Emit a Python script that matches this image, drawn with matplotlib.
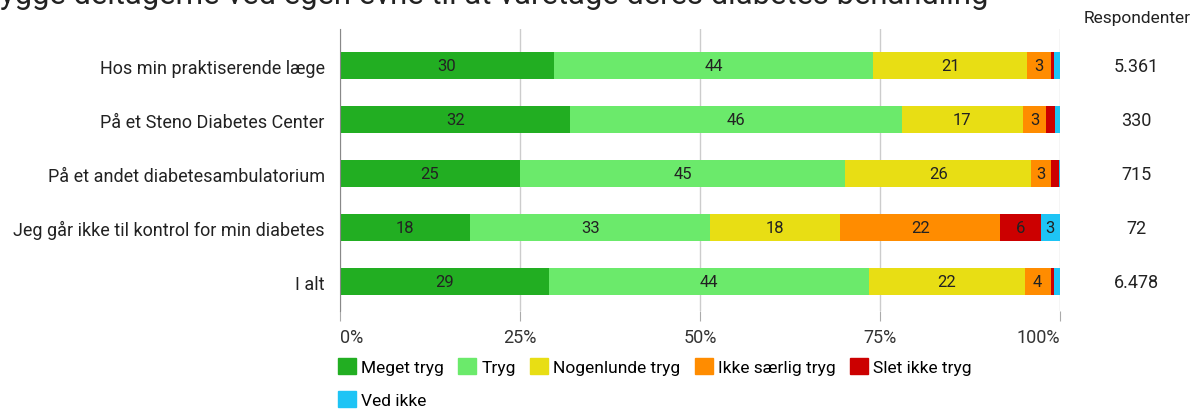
import numpy as np
import matplotlib.pyplot as plt
from matplotlib.patches import Patch

plt.rcParams['font.family'] = ['Roboto', 'DejaVu Sans']

groups = ['Hos min praktiserende læge', 'På et Steno Diabetes Center',
          'På et andet diabetesambulatorium', 'Jeg går ikke til kontrol for min diabetes',
          'I alt']
respondents = ['5.361', '330', '715', '72', '6.478']

categories = ['Meget tryg', 'Tryg', 'Nogenlunde tryg', 'Ikke særlig tryg',
              'Slet ikke tryg', 'Ved ikke']
meget_tryg = [29.7, 32.0, 25.0, 18.1, 29.1]
tryg = [44.4, 46.0, 45.2, 33.3, 44.4]
nogenlunde = [21.3, 16.9, 25.8, 18.1, 21.6]
ikke_saerlig = [3.3, 3.2, 2.8, 22.2, 3.6]
slet_ikke = [0.5, 1.2, 1.0, 5.6, 0.5]
ved_ikke = [0.8, 0.7, 0.2, 2.7, 0.8]

colors = ['#22ae22', '#6bea6b', '#e8de14', '#ff8c00', '#cc0000', '#1ec4f5']
series = [meget_tryg, tryg, nogenlunde, ikke_saerlig, slet_ikke, ved_ikke]

fig = plt.figure(figsize=(11.95, 4.10), dpi=100)
ax = fig.add_axes([0.2845, 0.239, 0.6025, 0.688])

y = np.arange(len(groups))
left = np.zeros(len(groups))
for vals, col, name in zip(series, colors, categories):
    vals = np.array(vals)
    ax.barh(y, vals, left=left, height=0.5, color=col, label=name, zorder=3)
    for yi, (l, v) in enumerate(zip(left, vals)):
        if v >= 2.5:  # small segments get no label
            ax.text(l + v / 2, yi, f'{v:.0f}', ha='center', va='center',
                    fontsize=12, color='#222222', zorder=4)
    left += vals

ax.set_xlim(0, 100)
ax.set_ylim(4.54, -0.685)
ax.set_yticks(y)
ax.set_yticklabels(groups, fontsize=13, color='#222222')
ax.tick_params(axis='y', length=0, pad=11)
ax.set_xticks([0, 25, 50, 75, 100])
ax.set_xticklabels(['0%', '25%', '50%', '75%', '100%'], fontsize=13, color='#333333')
for lbl, ha in zip(ax.get_xticklabels(), ['left', 'center', 'center', 'center', 'right']):
    lbl.set_ha(ha)
ax.tick_params(axis='x', length=7, color='#aaaaaa', pad=5)
ax.grid(axis='x', color='#cccccc', linewidth=1, zorder=0)
for s in ['top', 'right', 'bottom']:
    ax.spines[s].set_visible(False)
ax.spines['left'].set_color('#888888')
ax.spines['left'].set_zorder(5)

# respondent column on the right
fig.text(1137 / 1195, 1 - 18 / 410, 'Respondenter', ha='center', va='center',
         fontsize=12.5, color='#222222')
for yi, r in enumerate(respondents):
    fig.text(1136 / 1195, 1 - (67 + 54 * yi) / 410, r, ha='center', va='center',
             fontsize=13, color='#222222')

# title, cropped at the top edge like in the reference
fig.text(0.0, 1 - 4 / 410, 'ygge deltagerne ved egen evne til at varetage deres diabetes behandling',
         ha='left', va='baseline', fontsize=22.3, color='#222222')

handles = [Patch(facecolor=c, edgecolor=c) for c in colors]
order = [0, 5, 1, 2, 3, 4]  # column-major fill puts "Ved ikke" under "Meget tryg"
fig.legend([handles[i] for i in order], [categories[i] for i in order],
           loc='upper left', bbox_to_anchor=(338 / 1195, 1 - 359 / 410), ncol=5,
           frameon=False, fontsize=12.5, handlelength=1.05, handleheight=1.05,
           handletextpad=0.3, columnspacing=0.8, labelspacing=0.9, borderaxespad=0,
           borderpad=0)

fig.savefig('out.png', dpi=100)
